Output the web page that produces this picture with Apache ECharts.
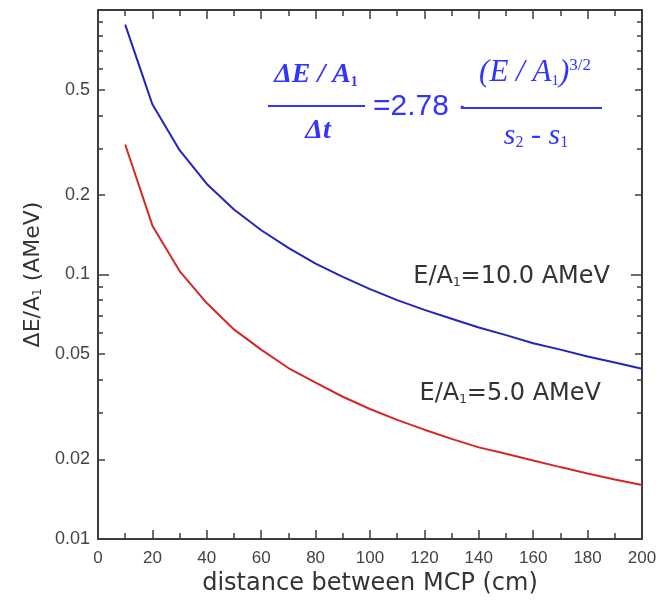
<!DOCTYPE html>
<html>
<head>
<meta charset="utf-8">
<script src="https://cdn.jsdelivr.net/npm/echarts@6.0.0/dist/echarts.min.js"></script>
<style>
  html, body { margin: 0; background: #fff; }
  #chart { width: 660px; height: 606px; }
</style>
</head>
<body>
<div id="chart"></div>
<script>
// values
var distance = [10, 20, 30, 40, 50, 60, 70, 80, 90, 100, 110, 120, 130, 140, 150, 160, 170, 180, 190, 200];
var dE_10AMeV = [0.88, 0.44, 0.295, 0.22, 0.176, 0.147, 0.126, 0.11, 0.098, 0.088, 0.08, 0.0735, 0.068, 0.063, 0.059, 0.055, 0.052, 0.049, 0.0465, 0.044];
var dE_5AMeV = [0.31, 0.153, 0.103, 0.078, 0.062, 0.052, 0.0443, 0.039, 0.0345, 0.031, 0.0282, 0.0259, 0.0239, 0.0222, 0.021, 0.0198, 0.0187, 0.0177, 0.0168, 0.016];

var yLabelValues = [0.01, 0.02, 0.05, 0.1, 0.2, 0.5];
var yDecadeTicks = [0.1];
var yMidTicks = [0.02, 0.05, 0.2, 0.5];
var yMinorTicks = [0.03, 0.04, 0.06, 0.07, 0.08, 0.09, 0.3, 0.4, 0.6, 0.7, 0.8, 0.9];

function pairs(xs, ys) {
  return xs.map(function (x, i) { return [x, ys[i]]; });
}

var axisColor = '#3c3c3c';
var labelFont = 'Liberation Sans, Arial, sans-serif';
var titleFont = 'DejaVu Sans, Verdana, sans-serif';
var serifFont = 'Liberation Serif, DejaVu Serif, serif';
var formulaBlue = '#3434ff';

function yPart(pos, ticks, len, main) {
  return {
    type: 'log',
    position: pos,
    min: 0.01,
    max: 1,
    logBase: 10,
    name: main && pos === 'left' ? '{a|ΔE/A}{s|1}{a| (AMeV)}' : '',
    nameLocation: 'middle',
    nameGap: 52,
    nameTextStyle: {
      rich: {
        a: { fontSize: 22, fontFamily: titleFont, color: '#333' },
        s: { fontSize: 12, fontFamily: titleFont, color: '#333', verticalAlign: 'bottom', padding: [6, 0, 0, 0] }
      }
    },
    axisLine: { show: main, onZero: false, lineStyle: { color: axisColor, width: 2 } },
    axisTick: { show: true, inside: true, length: len, customValues: ticks, lineStyle: { color: axisColor, width: 1.5 } },
    axisLabel: main && pos === 'left' ? {
      show: true,
      customValues: yLabelValues,
      margin: 8,
      fontSize: 18,
      fontFamily: labelFont,
      color: '#444',
      formatter: function (v) { return String(+(+v).toPrecision(2)); }
    } : { show: false },
    splitLine: { show: false },
    minorTick: { show: false }
  };
}

function xPart(pos, main) {
  return {
    type: 'value',
    position: pos,
    min: 0,
    max: 200,
    interval: 20,
    name: main ? 'distance between MCP (cm)' : '',
    nameLocation: 'middle',
    nameGap: 33,
    nameTextStyle: { fontSize: 24, fontFamily: titleFont, color: '#333' },
    axisLine: { show: true, onZero: false, lineStyle: { color: axisColor, width: 2 } },
    axisTick: { show: true, inside: true, length: 9, lineStyle: { color: axisColor, width: 1.5 } },
    minorTick: { show: true, splitNumber: 2, length: 6, lineStyle: { color: axisColor, width: 1.5 } },
    axisLabel: main ? { show: true, margin: 11, fontSize: 17, fontFamily: labelFont, color: '#444' } : { show: false },
    splitLine: { show: false },
    minorSplitLine: { show: false }
  };
}

var chart = echarts.init(document.getElementById('chart'));

var curveLabelRich = {
  a: { fontSize: 24, fontFamily: titleFont, fill: '#333' },
  s: { fontSize: 12, fontFamily: titleFont, fill: '#333', verticalAlign: 'bottom', padding: [4, 0, 0, 0] }
};

chart.setOption({
  backgroundColor: '#fff',
  animation: false,
  grid: { left: 98, right: 18, top: 10, bottom: 67 },
  xAxis: [xPart('bottom', true), xPart('top', false)],
  yAxis: [
    yPart('left', yDecadeTicks, 11, true),
    yPart('left', yMidTicks, 7, false),
    yPart('left', yMinorTicks, 5, false),
    yPart('right', yDecadeTicks, 11, true),
    yPart('right', yMidTicks, 7, false),
    yPart('right', yMinorTicks, 5, false)
  ],
  series: [
    {
      name: 'E/A1=10.0 AMeV',
      type: 'line',
      data: pairs(distance, dE_10AMeV),
      showSymbol: false,
      lineStyle: { color: '#2424b8', width: 2 },
      xAxisIndex: 0,
      yAxisIndex: 0
    },
    {
      name: 'E/A1=5.0 AMeV',
      type: 'line',
      data: pairs(distance, dE_5AMeV),
      showSymbol: false,
      lineStyle: { color: '#d42828', width: 2 },
      xAxisIndex: 0,
      yAxisIndex: 0
    }
  ],
  graphic: [
    {
      type: 'text', x: 610, y: 277,
      style: { text: '{a|E/A}{s|1}{a|=10.0 AMeV}', align: 'right', verticalAlign: 'middle', rich: curveLabelRich }
    },
    {
      type: 'text', x: 601, y: 394,
      style: { text: '{a|E/A}{s|1}{a|=5.0 AMeV}', align: 'right', verticalAlign: 'middle', rich: curveLabelRich }
    },
    // formula
    {
      type: 'text', x: 316, y: 75,
      style: {
        text: '{a|ΔE / A}{s|1}',
        align: 'center', verticalAlign: 'middle',
        rich: {
          a: { fontSize: 28, fontFamily: serifFont, fontStyle: 'italic', fontWeight: 'bold', fill: formulaBlue },
          s: { fontSize: 14, fontFamily: serifFont, fontWeight: 'bold', fill: formulaBlue, verticalAlign: 'bottom' }
        }
      }
    },
    { type: 'line', shape: { x1: 268, y1: 106, x2: 365, y2: 106 }, style: { stroke: formulaBlue, lineWidth: 2 } },
    {
      type: 'text', x: 318, y: 131,
      style: { text: 'Δt', align: 'center', verticalAlign: 'middle', font: 'italic bold 28px Liberation Serif, DejaVu Serif, serif', fill: formulaBlue }
    },
    {
      type: 'text', x: 373, y: 107,
      style: { text: '=2.78 ·', align: 'left', verticalAlign: 'middle', font: '30px Liberation Sans, Arial, sans-serif', fill: formulaBlue }
    },
    {
      type: 'text', x: 535, y: 73,
      style: {
        text: '{a|(E / A}{s|1}{a|)}{p|3/2}',
        align: 'center', verticalAlign: 'middle',
        rich: {
          a: { fontSize: 31, fontFamily: serifFont, fontStyle: 'italic', fill: formulaBlue },
          s: { fontSize: 15, fontFamily: serifFont, fill: formulaBlue, verticalAlign: 'bottom' },
          p: { fontSize: 17, fontFamily: serifFont, fill: formulaBlue, verticalAlign: 'top' }
        }
      }
    },
    { type: 'line', shape: { x1: 462, y1: 108, x2: 602, y2: 108 }, style: { stroke: formulaBlue, lineWidth: 2 } },
    {
      type: 'text', x: 536, y: 136,
      style: {
        text: '{a|s}{s|2}{a| - s}{s|1}',
        align: 'center', verticalAlign: 'middle',
        rich: {
          a: { fontSize: 30, fontFamily: serifFont, fontStyle: 'italic', fill: formulaBlue },
          s: { fontSize: 16, fontFamily: serifFont, fill: formulaBlue, verticalAlign: 'bottom', padding: [8, 0, 0, 0] }
        }
      }
    }
  ]
});
</script>
</body>
</html>
